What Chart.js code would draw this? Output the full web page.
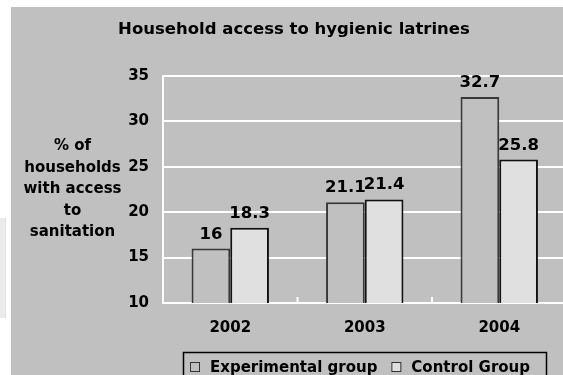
<!DOCTYPE html>
<html>
<head>
<meta charset="utf-8">
<script src="https://cdn.jsdelivr.net/npm/chart.js@4.4.1/dist/chart.umd.min.js"></script>
<style>
    html, body { margin: 0; padding: 0; background: #fff; overflow: hidden; width: 563px; height: 375px; }
    #chart { position: absolute; left: 11px; top: 7px; background: #c0c0c0; }
    #edge { position: absolute; left: 0; top: 218px; width: 5px; height: 100px; background: #ebebeb; border-right: 1px solid #e2e2e2; }
</style>
</head>
<body>
<div id="edge"></div>
<canvas id="chart" width="560" height="368"></canvas>
<script>
// Chart data
const years = ["2002", "2003", "2004"];
const experimental = [16, 21.1, 32.7];
const control = [18.3, 21.4, 25.8];
const yTicks = { min: 10, max: 35, step: 5 };

const chartTitle = "Household access to hygienic latrines";
const yTitleLines = ["% of", "households", "with access", "to", "sanitation"];
const seriesNames = ["Experimental group", "Control Group"];

const fontFamily = "'DejaVu Sans', Verdana, sans-serif";

// Title, axis title, value labels, legend box
const extrasPlugin = {
    id: "extras",
    afterDatasetsDraw(chart) {
        const ctx = chart.ctx;
        ctx.save();
        ctx.fillStyle = "#000";
        ctx.font = "bold 16.5px " + fontFamily;
        ctx.textAlign = "center";
        ctx.textBaseline = "alphabetic";
        chart.data.datasets.forEach((ds, i) => {
            chart.getDatasetMeta(i).data.forEach((bar, j) => {
                ctx.fillText(String(ds.data[j]), bar.x, bar.y - 10);
            });
        });
        ctx.restore();
    },
    afterDraw(chart) {
        const ctx = chart.ctx;
        const area = chart.chartArea;
        const xScale = chart.scales.x;
        ctx.save();

        // small inward ticks between categories
        ctx.strokeStyle = "#fff";
        ctx.lineWidth = 2;
        for (let i = 1; i < years.length; i++) {
            const bx = (xScale.getPixelForValue(i - 1) + xScale.getPixelForValue(i)) / 2;
            ctx.beginPath();
            ctx.moveTo(bx, area.bottom);
            ctx.lineTo(bx, area.bottom - 6);
            ctx.stroke();
        }

        ctx.fillStyle = "#000";
        ctx.textAlign = "center";
        ctx.textBaseline = "middle";

        // chart title
        ctx.font = "bold 16.5px " + fontFamily;
        ctx.fillText(chartTitle, 283, 23);

        // horizontal y axis title
        ctx.font = "bold 15px " + fontFamily;
        const lineH = 21.5;
        const midY = (area.top + area.bottom) / 2;
        yTitleLines.forEach((line, i) => {
            ctx.fillText(line, 61.5, midY + (i - (yTitleLines.length - 1) / 2) * lineH);
        });

        // legend
        ctx.strokeStyle = "#000";
        ctx.lineWidth = 1.5;
        ctx.strokeRect(172.5, 345.5, 363, 40);
        ctx.textAlign = "left";
        ctx.textBaseline = "alphabetic";
        let x = 179;
        chart.data.datasets.forEach(ds => {
            ctx.fillStyle = ds.backgroundColor;
            ctx.fillRect(x, 355, 9, 9);
            ctx.strokeStyle = "#333";
            ctx.lineWidth = 1;
            ctx.strokeRect(x + 0.5, 355.5, 9, 9);
            ctx.fillStyle = "#000";
            ctx.fillText(ds.label, x + 20, 364.5);
            x += 20 + ctx.measureText(ds.label).width + 14;
        });
        ctx.restore();
    }
};

new Chart(document.getElementById("chart"), {
    type: "bar",
    data: {
        labels: years,
        datasets: [
            {
                label: seriesNames[0],
                data: experimental,
                backgroundColor: "#c0c0c0",
                borderColor: "#383838",
                borderWidth: 2
            },
            {
                label: seriesNames[1],
                data: control,
                backgroundColor: "#e0e0e0",
                borderColor: "#111",
                borderWidth: 2
            }
        ]
    },
    options: {
        responsive: false,
        animation: false,
        categoryPercentage: 0.5755,
        barPercentage: 1,
        layout: {
            padding: { top: 69, right: 4.5, bottom: 0, left: 0 }
        },
        plugins: {
            legend: { display: false },
            title: { display: false },
            tooltip: { enabled: false }
        },
        scales: {
            x: {
                grid: { display: true, drawOnChartArea: false, drawTicks: false },
                border: { display: true, color: "#fff", width: 2 },
                ticks: {
                    color: "#000",
                    padding: 16,
                    font: { family: fontFamily, size: 15, weight: "bold" }
                },
                afterFit: scale => { scale.height = 72; }
            },
            y: {
                min: yTicks.min,
                max: yTicks.max,
                grid: { color: "#fff", lineWidth: 2, drawTicks: false },
                border: { display: true, color: "#fff", width: 2 },
                ticks: {
                    stepSize: yTicks.step,
                    color: "#000",
                    padding: 14,
                    font: { family: fontFamily, size: 15, weight: "bold" }
                },
                afterFit: scale => { scale.width = 152; }
            }
        }
    },
    plugins: [extrasPlugin]
});
</script>
</body>
</html>
